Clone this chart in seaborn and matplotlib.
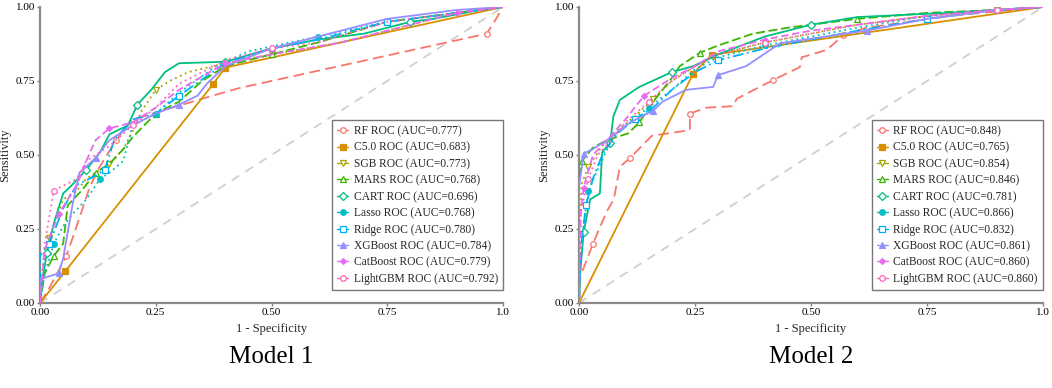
import numpy as np
import pandas as pd
import matplotlib
matplotlib.use("Agg")
import matplotlib.pyplot as plt
import seaborn as sns

# ---------------- data ----------------
models = ["RF", "C5.0", "SGB", "MARS", "CART", "Lasso", "Ridge", "XGBoost", "CatBoost", "LightGBM"]
auc_model1 = [0.777, 0.683, 0.773, 0.768, 0.696, 0.768, 0.780, 0.784, 0.779, 0.792]
auc_model2 = [0.848, 0.765, 0.854, 0.846, 0.781, 0.866, 0.832, 0.861, 0.860, 0.860]
panel_titles = ["Model 1", "Model 2"]
x_ticks = [0.0, 0.25, 0.5, 0.75, 1.0]
x_tick_labels = ["0.00", "0.25", "0.50", "0.75", "1.0"]
y_ticks = [0.0, 0.25, 0.5, 0.75, 1.0]
y_tick_labels = ["0.00", "0.25", "0.50", "0.75", "1.00"]

# Model 1 ROC curves
m1_rf_fpr = [0, 0.02, 0.057, 0.075, 0.107, 0.125, 0.164, 0.20, 0.35, 0.43, 0.965, 0.985, 1.0]
m1_rf_tpr = [0, 0.05, 0.16, 0.24, 0.39, 0.45, 0.55, 0.62, 0.69, 0.726, 0.91, 0.96, 1.0]
m1_c50_fpr = [0, 0.055, 0.374, 0.40, 1.0]
m1_c50_tpr = [0, 0.108, 0.74, 0.795, 1.0]
m1_sgb_fpr = [0, 0.005, 0.02, 0.05, 0.08, 0.10, 0.15, 0.18, 0.20, 0.22, 0.25, 0.28, 0.32, 0.40, 0.50, 0.65, 0.80, 0.90, 1.0]
m1_sgb_tpr = [0, 0.10, 0.22, 0.35, 0.38, 0.42, 0.47, 0.52, 0.58, 0.65, 0.72, 0.75, 0.78, 0.81, 0.84, 0.88, 0.94, 0.98, 1.0]
m1_mars_fpr = [0, 0.01, 0.03, 0.05, 0.06, 0.09, 0.12, 0.15, 0.18, 0.20, 0.25, 0.30, 0.35, 0.40, 0.50, 0.60, 0.75, 0.90, 1.0]
m1_mars_tpr = [0, 0.10, 0.16, 0.20, 0.33, 0.38, 0.44, 0.47, 0.52, 0.56, 0.64, 0.68, 0.75, 0.80, 0.84, 0.88, 0.95, 0.98, 1.0]
m1_cart_fpr = [0, 0.005, 0.015, 0.03, 0.05, 0.07, 0.10, 0.13, 0.15, 0.19, 0.21, 0.24, 0.27, 0.30, 0.40, 0.50, 0.60, 0.70, 0.80, 0.85, 0.95, 1.0]
m1_cart_tpr = [0, 0.08, 0.17, 0.27, 0.37, 0.40, 0.45, 0.51, 0.57, 0.60, 0.67, 0.72, 0.78, 0.81, 0.815, 0.86, 0.89, 0.91, 0.95, 0.96, 0.99, 1.0]
m1_lasso_fpr = [0, 0.01, 0.03, 0.05, 0.07, 0.10, 0.13, 0.15, 0.18, 0.20, 0.25, 0.30, 0.38, 0.45, 0.60, 0.75, 0.90, 1.0]
m1_lasso_tpr = [0, 0.10, 0.20, 0.26, 0.30, 0.35, 0.42, 0.44, 0.48, 0.60, 0.64, 0.71, 0.80, 0.85, 0.90, 0.95, 0.98, 1.0]
m1_ridge_fpr = [0, 0.0, 0.02, 0.05, 0.08, 0.12, 0.14, 0.16, 0.20, 0.25, 0.30, 0.40, 0.50, 0.60, 0.75, 0.90, 1.0]
m1_ridge_tpr = [0, 0.16, 0.20, 0.32, 0.40, 0.43, 0.45, 0.55, 0.62, 0.64, 0.70, 0.81, 0.86, 0.89, 0.95, 0.98, 1.0]
m1_xgb_fpr = [0, 0.0, 0.04, 0.05, 0.07, 0.085, 0.12, 0.15, 0.20, 0.25, 0.30, 0.34, 0.36, 0.40, 0.50, 0.60, 0.75, 0.90, 1.0]
m1_xgb_tpr = [0, 0.08, 0.10, 0.15, 0.33, 0.44, 0.49, 0.55, 0.60, 0.64, 0.67, 0.70, 0.74, 0.80, 0.86, 0.90, 0.96, 0.99, 1.0]
m1_cat_fpr = [0, 0.01, 0.04, 0.08, 0.10, 0.12, 0.15, 0.20, 0.25, 0.30, 0.40, 0.50, 0.65, 0.80, 0.90, 1.0]
m1_cat_tpr = [0, 0.18, 0.30, 0.40, 0.48, 0.55, 0.59, 0.61, 0.66, 0.72, 0.81, 0.84, 0.88, 0.94, 0.98, 1.0]
m1_lgbm_fpr = [0, 0.01, 0.03, 0.08, 0.10, 0.15, 0.20, 0.25, 0.30, 0.40, 0.50, 0.60, 0.75, 0.90, 1.0]
m1_lgbm_tpr = [0, 0.20, 0.38, 0.42, 0.48, 0.53, 0.60, 0.66, 0.74, 0.82, 0.86, 0.88, 0.95, 0.98, 1.0]

# Model 2 ROC curves
m2_rf_fpr = [0, 0.003, 0.03, 0.06, 0.075, 0.088, 0.11, 0.157, 0.20, 0.239, 0.239, 0.275, 0.332, 0.34, 0.418, 0.476, 0.48, 0.534, 0.57, 0.62, 0.80, 1.0]
m2_rf_tpr = [0, 0.09, 0.20, 0.31, 0.35, 0.46, 0.49, 0.565, 0.575, 0.584, 0.64, 0.66, 0.665, 0.69, 0.753, 0.797, 0.83, 0.855, 0.905, 0.93, 0.97, 1.0]
m2_c50_fpr = [0, 0.246, 0.286, 1.0]
m2_c50_tpr = [0, 0.775, 0.838, 1.0]
m2_sgb_fpr = [0, 0.005, 0.02, 0.05, 0.08, 0.12, 0.16, 0.20, 0.25, 0.30, 0.40, 0.50, 0.60, 0.75, 0.90, 1.0]
m2_sgb_tpr = [0, 0.40, 0.46, 0.53, 0.58, 0.63, 0.69, 0.75, 0.80, 0.84, 0.88, 0.91, 0.94, 0.97, 0.99, 1.0]
m2_mars_fpr = [0, 0.0, 0.006, 0.03, 0.06, 0.106, 0.13, 0.16, 0.20, 0.217, 0.26, 0.30, 0.375, 0.45, 0.60, 0.75, 0.90, 1.0]
m2_mars_tpr = [0, 0.41, 0.48, 0.525, 0.55, 0.573, 0.61, 0.68, 0.76, 0.80, 0.845, 0.87, 0.91, 0.93, 0.96, 0.98, 0.99, 1.0]
m2_cart_fpr = [0, 0.002, 0.01, 0.024, 0.045, 0.05, 0.067, 0.074, 0.088, 0.13, 0.20, 0.246, 0.30, 0.40, 0.50, 0.60, 0.79, 0.90, 1.0]
m2_cart_tpr = [0, 0.09, 0.24, 0.35, 0.37, 0.51, 0.54, 0.63, 0.686, 0.73, 0.78, 0.80, 0.84, 0.90, 0.94, 0.966, 0.98, 0.99, 1.0]
m2_lasso_fpr = [0, 0.005, 0.02, 0.04, 0.07, 0.10, 0.15, 0.20, 0.25, 0.30, 0.40, 0.50, 0.60, 0.75, 0.90, 1.0]
m2_lasso_tpr = [0, 0.20, 0.38, 0.45, 0.55, 0.60, 0.66, 0.72, 0.79, 0.83, 0.87, 0.90, 0.93, 0.97, 0.99, 1.0]
m2_ridge_fpr = [0, 0.005, 0.015, 0.03, 0.05, 0.08, 0.12, 0.16, 0.20, 0.25, 0.30, 0.40, 0.50, 0.60, 0.75, 0.90, 1.0]
m2_ridge_tpr = [0, 0.20, 0.33, 0.42, 0.50, 0.57, 0.62, 0.66, 0.72, 0.78, 0.82, 0.86, 0.89, 0.92, 0.96, 0.99, 1.0]
m2_xgb_fpr = [0, 0.0, 0.01, 0.03, 0.06, 0.11, 0.16, 0.18, 0.23, 0.289, 0.30, 0.36, 0.433, 0.53, 0.62, 0.75, 0.90, 1.0]
m2_xgb_tpr = [0, 0.39, 0.505, 0.52, 0.55, 0.61, 0.65, 0.68, 0.72, 0.73, 0.77, 0.80, 0.877, 0.90, 0.92, 0.96, 0.99, 1.0]
m2_cat_fpr = [0, 0.003, 0.01, 0.03, 0.06, 0.10, 0.14, 0.20, 0.25, 0.30, 0.40, 0.50, 0.60, 0.75, 0.90, 1.0]
m2_cat_tpr = [0, 0.29, 0.39, 0.50, 0.55, 0.62, 0.70, 0.76, 0.80, 0.85, 0.89, 0.92, 0.94, 0.97, 0.99, 1.0]
m2_lgbm_fpr = [0, 0.003, 0.02, 0.04, 0.07, 0.10, 0.15, 0.20, 0.25, 0.30, 0.40, 0.50, 0.60, 0.75, 0.90, 1.0]
m2_lgbm_tpr = [0, 0.30, 0.42, 0.50, 0.55, 0.61, 0.68, 0.75, 0.80, 0.84, 0.88, 0.91, 0.94, 0.97, 0.99, 1.0]

model1_curves = [(m1_rf_fpr, m1_rf_tpr), (m1_c50_fpr, m1_c50_tpr), (m1_sgb_fpr, m1_sgb_tpr),
                 (m1_mars_fpr, m1_mars_tpr), (m1_cart_fpr, m1_cart_tpr), (m1_lasso_fpr, m1_lasso_tpr),
                 (m1_ridge_fpr, m1_ridge_tpr), (m1_xgb_fpr, m1_xgb_tpr), (m1_cat_fpr, m1_cat_tpr),
                 (m1_lgbm_fpr, m1_lgbm_tpr)]
model2_curves = [(m2_rf_fpr, m2_rf_tpr), (m2_c50_fpr, m2_c50_tpr), (m2_sgb_fpr, m2_sgb_tpr),
                 (m2_mars_fpr, m2_mars_tpr), (m2_cart_fpr, m2_cart_tpr), (m2_lasso_fpr, m2_lasso_tpr),
                 (m2_ridge_fpr, m2_ridge_tpr), (m2_xgb_fpr, m2_xgb_tpr), (m2_cat_fpr, m2_cat_tpr),
                 (m2_lgbm_fpr, m2_lgbm_tpr)]

# ---------------- style ----------------
colors = ["#F8766D", "#D89000", "#A3A500", "#39B600", "#00BF7D",
          "#00BFC4", "#00B0F6", "#9590FF", "#E76BF3", "#FF62BC"]
linestyles = [(0, (6, 3)), "-", (0, (1, 2)), (0, (5, 2)), "-",
              (0, (1, 2)), (0, (6, 2, 1, 2)), "-", (0, (4, 2)), (0, (1, 2))]
markers = ["o", "s", "v", "^", "D", "o", "s", "^", "D", "o"]
marker_filled = [False, True, False, False, False, True, False, True, True, False]
marker_sizes = [4, 4, 4.5, 4.5, 4, 4, 4, 4.5, 3, 4]

sns.set_theme(style="white")
plt.rcParams["font.family"] = ["Liberation Serif", "DejaVu Serif"]

fig = plt.figure(figsize=(10.52, 3.88), dpi=100)
fig.patch.set_facecolor("white")

axes_pos = [[40 / 1052, 1 - 303 / 388, 463 / 1052, 296 / 388],
            [579 / 1052, 1 - 303 / 388, 464 / 1052, 296 / 388]]

for p, (pos, curves, aucs, title) in enumerate(zip(axes_pos, [model1_curves, model2_curves],
                                                   [auc_model1, auc_model2], panel_titles)):
    ax = fig.add_axes(pos)
    ax.set_facecolor("white")
    ax.plot([0, 1], [0, 1], color="#cfcfcf", lw=1.3, ls=(0, (5, 4)), zorder=1)
    handles = []
    for i, (fpr, tpr) in enumerate(curves):
        df = pd.DataFrame({"fpr": fpr, "tpr": tpr})
        label = f"{models[i]} ROC (AUC={aucs[i]:.3f})"
        mfc = colors[i] if marker_filled[i] else "white"
        n = len(fpr)
        mk_idx = list(range(2, n - 1, 4)) if n > 5 else list(range(1, n - 1))
        sns.lineplot(data=df, x="fpr", y="tpr", ax=ax, estimator=None, sort=False,
                     color=colors[i], linestyle=linestyles[i], lw=1.3,
                     marker=markers[i], markersize=marker_sizes[i], markevery=mk_idx,
                     markerfacecolor=mfc, markeredgecolor=colors[i], markeredgewidth=0.9,
                     label=label, legend=False, zorder=3)
        handles.append(matplotlib.lines.Line2D([], [], color=colors[i], linestyle="-", lw=1.0,
                                               marker=markers[i], markersize=marker_sizes[i],
                                               markerfacecolor=mfc, markeredgecolor=colors[i],
                                               markeredgewidth=0.9, label=label))
    ax.set_xlim(0, 1)
    ax.set_ylim(0, 1)
    ax.set_xticks(x_ticks)
    ax.set_xticklabels(x_tick_labels)
    ax.set_yticks(y_ticks)
    ax.set_yticklabels(y_tick_labels)
    ax.tick_params(axis="both", labelsize=8, length=2.5, width=1, color="#808080",
                   colors="black", pad=1.2, direction="out", bottom=True, left=True)
    for s in ["top", "right"]:
        ax.spines[s].set_visible(False)
    for s in ["left", "bottom"]:
        ax.spines[s].set_color("#8a8a8a")
        ax.spines[s].set_linewidth(1.6)
    ax.set_xlabel("1 - Specificity", fontsize=9)
    ax.xaxis.set_label_coords(0.5, -0.066)
    ax.set_ylabel("Sensitivity", fontsize=9)
    ax.yaxis.set_label_coords(-0.063, 0.5)
    leg = ax.legend(handles=handles, loc="lower right", bbox_to_anchor=(1.0, 0.044),
                    borderaxespad=0, fontsize=8.3, frameon=True, fancybox=False,
                    handlelength=0.9, handletextpad=0.5, labelspacing=0.38,
                    borderpad=0.45, edgecolor="#555555")
    leg.get_frame().set_linewidth(1.0)
    cx = pos[0] + pos[2] / 2
    fig.text(cx, 0.08, title, ha="center", va="center", fontsize=18, color="black")

fig.savefig("out.png", dpi=100, facecolor="white")
